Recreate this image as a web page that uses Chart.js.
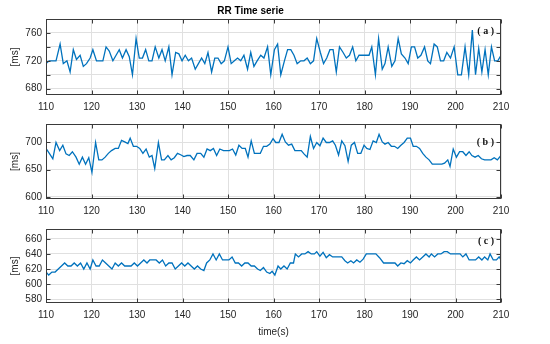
<!DOCTYPE html>
<html>
<head>
<meta charset="utf-8">
<script src="https://cdn.jsdelivr.net/npm/chart.js@4.4.1/dist/chart.umd.min.js"></script>
<style>
  html, body { margin: 0; padding: 0; background: #fff; }
  body { width: 550px; height: 344px; position: relative; overflow: hidden; }
  canvas { position: absolute; left: 0; }
</style>
</head>
<body>
<canvas id="ca" width="550" height="112" style="top:0px"></canvas>
<canvas id="cb" width="550" height="105" style="top:112px"></canvas>
<canvas id="cc" width="550" height="121" style="top:217px"></canvas>
<script>
// ---- Data ----
const xTicks = [110, 120, 130, 140, 150, 160, 170, 180, 190, 200, 210];

// Panel (a)
const timeA = [110.0,110.7,111.4,112.2,113.1,113.8,114.6,115.3,116.0,116.7,117.5,118.2,118.9,119.7,120.3,121.1,121.8,122.5,123.2,123.9,124.7,125.4,126.1,126.8,127.6,128.3,129.0,129.8,130.5,131.2,131.9,132.6,133.3,134.0,134.8,135.5,136.2,137.0,137.7,138.5,139.2,139.9,140.6,141.3,142.0,142.8,143.5,144.2,144.9,145.6,146.4,147.1,147.8,148.5,149.2,150.0,150.7,151.4,152.1,152.8,153.5,154.3,155.0,155.7,156.4,157.2,157.9,158.7,159.4,160.2,160.9,161.6,162.4,163.1,163.8,164.5,165.2,166.0,166.7,167.4,168.1,168.8,169.5,170.3,171.0,171.7,172.4,173.1,173.8,174.5,175.3,176.0,176.7,177.4,178.1,178.8,179.5,180.2,181.0,181.6,182.4,183.1,183.9,184.5,185.2,186.0,186.7,187.4,188.1,188.9,189.6,190.3,191.0,191.7,192.4,193.2,193.9,194.5,195.3,196.0,196.7,197.4,198.1,198.9,199.7,200.5,201.3,202.1,202.9,203.7,204.4,205.1,205.8,206.5,207.2,207.9,208.6,209.3,210.0];
const rrA = [716,720,720,720,744,716,720,704,736,722,728,712,716,724,736,720,720,720,740,734,720,728,736,724,736,726,700,752,724,724,736,720,720,740,724,736,720,740,700,732,730,720,728,720,724,708,716,724,716,732,704,724,724,716,720,740,716,720,724,720,728,708,732,712,720,728,724,740,700,736,744,700,720,736,736,728,716,720,720,724,716,720,752,732,716,724,736,736,704,740,732,724,728,740,720,728,728,728,728,740,700,752,708,716,740,712,720,752,730,724,716,740,740,724,728,740,720,716,744,740,720,720,732,724,740,700,700,740,700,764,700,738,704,736,700,740,720,720,728];

// Panel (b)
const timeB = [110.0,110.8,111.5,112.2,113.0,113.7,114.4,115.1,115.8,116.6,117.3,118.0,118.7,119.4,120.1,120.9,121.6,122.3,123.0,123.7,124.4,125.2,125.9,126.6,127.3,128.0,128.5,129.2,129.9,130.6,131.3,132.0,132.7,133.3,133.9,134.7,135.4,136.0,136.8,137.5,138.2,138.9,139.7,140.3,141.0,141.7,142.5,143.2,144.0,144.7,145.4,146.1,146.8,147.5,148.2,149.0,149.7,150.3,151.0,151.7,152.4,153.1,153.8,154.4,155.1,155.8,156.5,157.1,157.8,158.5,159.2,159.9,160.5,161.2,161.9,162.6,163.3,164.0,164.7,165.4,166.1,166.7,167.4,168.1,168.8,169.5,170.2,170.9,171.6,172.3,173.0,173.6,174.3,175.0,175.7,176.4,177.1,177.8,178.5,179.2,179.9,180.5,181.2,181.9,182.6,183.2,183.9,184.5,185.2,185.9,186.6,187.3,188.0,188.7,189.4,190.1,190.7,191.4,192.1,192.8,193.5,194.2,194.9,195.6,196.3,197.0,197.6,198.3,198.8,199.5,200.2,200.9,201.6,202.3,203.0,203.6,204.3,205.0,205.7,206.4,207.1,207.8,208.5,209.2,210.0];
const rrB = [689,679,670,700,685,695,679,676,683,673,660,673,660,672,645,700,668,668,673,680,685,689,689,704,701,698,708,693,693,689,680,688,673,676,652,700,668,668,676,668,672,680,677,674,676,676,668,680,680,673,688,685,689,676,688,685,685,685,688,677,695,689,689,673,703,680,680,680,693,693,697,707,700,700,715,701,695,697,685,685,685,679,673,711,689,700,694,708,700,700,703,695,677,703,694,665,695,700,680,680,695,689,687,703,700,715,701,697,700,693,693,689,695,700,708,708,693,693,689,680,673,668,660,660,660,660,662,668,656,688,673,683,683,676,683,676,673,676,670,668,668,668,672,668,676];

// Panel (c)
const timeC = [110.0,110.6,111.3,112.0,112.7,113.4,114.1,114.8,115.5,116.2,116.9,117.6,118.3,119.0,119.7,120.3,121.0,121.7,122.4,123.1,123.8,124.5,125.2,125.9,126.6,127.3,128.0,128.7,129.4,130.1,130.8,131.5,132.2,132.8,133.5,134.2,134.9,135.6,136.3,137.0,137.7,138.4,139.1,139.8,140.5,141.2,141.9,142.6,143.3,144.0,144.7,145.3,146.0,146.7,147.4,148.1,148.8,149.5,150.2,150.9,151.6,152.3,153.0,153.7,154.4,155.1,155.8,156.5,157.1,157.8,158.5,159.2,159.7,160.3,161.0,161.6,162.3,163.0,163.7,164.4,164.8,165.5,166.2,166.9,167.6,168.3,169.0,169.5,170.2,170.9,171.6,172.3,173.0,173.6,174.3,175.0,175.7,176.3,177.0,177.6,178.3,179.0,179.7,180.4,181.1,181.8,182.5,183.3,184.2,185.0,185.9,186.7,187.3,188.0,188.7,189.4,190.1,190.7,191.4,192.1,192.8,193.5,194.2,194.7,195.4,196.1,196.8,197.5,198.2,198.9,199.6,200.3,201.0,201.6,202.3,203.0,203.7,204.4,205.1,205.8,206.4,207.1,207.6,208.3,209.0,209.6,210.0];
const rrC = [616,612,616,616,620,624,628,624,624,628,624,628,620,628,620,632,624,624,632,628,624,620,628,624,628,624,624,624,628,624,628,632,628,632,632,632,628,632,624,628,628,620,624,628,624,628,624,620,624,620,618,628,632,640,632,640,632,632,632,636,628,628,624,628,628,624,624,620,618,622,616,614,617,612,624,620,624,620,628,628,640,636,640,640,643,640,640,643,637,642,635,639,636,636,636,636,631,628,631,628,632,629,633,640,640,640,640,635,628,628,628,628,624,628,627,631,628,632,636,632,636,640,636,640,636,640,640,643,643,640,640,640,640,636,640,632,632,632,636,632,636,632,640,632,632,636,632];

const yTicksA = [680, 700, 720, 740, 760];
const yLabelsA = [680, 720, 760];
const yTicksB = [600, 650, 700];
const yTicksC = [580, 600, 620, 640, 660];

// ---- Styling ----
const FONT = "'Liberation Sans', Arial, Helvetica, sans-serif";
const TXT = '#262626';
const GRID = '#e0e0e0';
const LINE = '#0072BD';

function pairs(t, v) { return t.map((x, i) => ({ x: x, y: v[i] })); }

const boxPlugin = {
  id: 'box',
  afterDraw(chart, args, opts) {
    const { ctx, chartArea: a } = chart;
    const xs = chart.scales.x, ys = chart.scales.y;
    ctx.save();
    ctx.strokeStyle = '#3a3a3a';
    ctx.lineWidth = 1;
    const L = Math.round(a.left) + 0.5, R = Math.round(a.right) - 0.5;
    const T = Math.round(a.top) + 0.5, B = Math.round(a.bottom) - 0.5;
    ctx.strokeRect(L, T, R - L, B - T);
    ctx.beginPath();
    const tl = 4;
    xs.ticks.forEach(tk => {
      const px = Math.round(xs.getPixelForValue(tk.value)) + 0.5;
      ctx.moveTo(px, B); ctx.lineTo(px, B - tl);
      ctx.moveTo(px, T); ctx.lineTo(px, T + tl);
    });
    ys.ticks.forEach(tk => {
      const py = Math.round(ys.getPixelForValue(tk.value)) + 0.5;
      ctx.moveTo(L, py); ctx.lineTo(L + tl, py);
      ctx.moveTo(R, py); ctx.lineTo(R - tl, py);
    });
    ctx.stroke();
    // panel letter
    ctx.fillStyle = '#111';
    ctx.font = "bold 10px 'Liberation Serif', 'Times New Roman', serif";
    ctx.textAlign = 'right';
    ctx.textBaseline = 'middle';
    ctx.fillText(opts.label, a.right - 7, a.top + opts.labelDy);
    ctx.restore();
  }
};

function makeChart(id, cfg) {
  const tickSet = cfg.yTicks;
  return new Chart(document.getElementById(id), {
    type: 'line',
    data: {
      datasets: [{
        data: pairs(cfg.t, cfg.v),
        borderColor: LINE,
        borderWidth: 1.3,
        pointRadius: 0,
        tension: 0,
        fill: false
      }]
    },
    options: {
      responsive: false,
      animation: false,
      events: [],
      layout: { padding: { top: cfg.padTop, right: 49, left: 0, bottom: 0 } },
      plugins: {
        legend: { display: false },
        tooltip: { enabled: false },
        title: cfg.title ? {
          display: true, text: cfg.title, color: '#000',
          font: { family: FONT, size: 10, weight: 'bold' },
          padding: { top: 5, bottom: 2 }
        } : { display: false },
        box: { label: cfg.label, labelDy: cfg.labelDy }
      },
      scales: {
        x: {
          type: 'linear', min: 110, max: 210,
          afterBuildTicks(s) { s.ticks = xTicks.map(v => ({ value: v })); },
          afterFit(s) { s.height = cfg.xHeight; },
          grid: { color: GRID, drawTicks: false, lineWidth: 1 },
          border: { display: false },
          ticks: { color: TXT, font: { family: FONT, size: 10 }, padding: 6, maxRotation: 0, autoSkip: false },
          title: cfg.xTitle ? { display: true, text: cfg.xTitle, color: TXT, font: { family: FONT, size: 10 }, padding: { top: 1, bottom: 0 } } : { display: false }
        },
        y: {
          type: 'linear', min: cfg.yMin, max: cfg.yMax,
          afterBuildTicks(s) { s.ticks = tickSet.map(v => ({ value: v })); },
          afterFit(s) { s.width = 46; },
          grid: { color: GRID, drawTicks: false, lineWidth: 1 },
          border: { display: false },
          ticks: {
            color: TXT, font: { family: FONT, size: 10 }, padding: 4, autoSkip: false,
            callback: (v) => (cfg.yLabels.indexOf(v) >= 0 ? String(v) : '')
          },
          title: { display: true, text: '[ms]', color: TXT, font: { family: FONT, size: 10 }, padding: { top: 9, bottom: 0 } }
        }
      }
    },
    plugins: [boxPlugin]
  });
}

makeChart('ca', { t: timeA, v: rrA, yMin: 671, yMax: 780, yTicks: yTicksA, yLabels: yLabelsA,
  padTop: 0, title: 'RR Time serie', xHeight: 17, label: '( a )', labelDy: 12 });
makeChart('cb', { t: timeB, v: rrB, yMin: 596, yMax: 734, yTicks: yTicksB, yLabels: yTicksB,
  padTop: 12, xHeight: 18, label: '( b )', labelDy: 18 });
makeChart('cc', { t: timeC, v: rrC, yMin: 575, yMax: 673, yTicks: yTicksC, yLabels: yTicksC,
  padTop: 12, xHeight: 35, xTitle: 'time(s)', label: '( c )', labelDy: 12 });
</script>
</body>
</html>
